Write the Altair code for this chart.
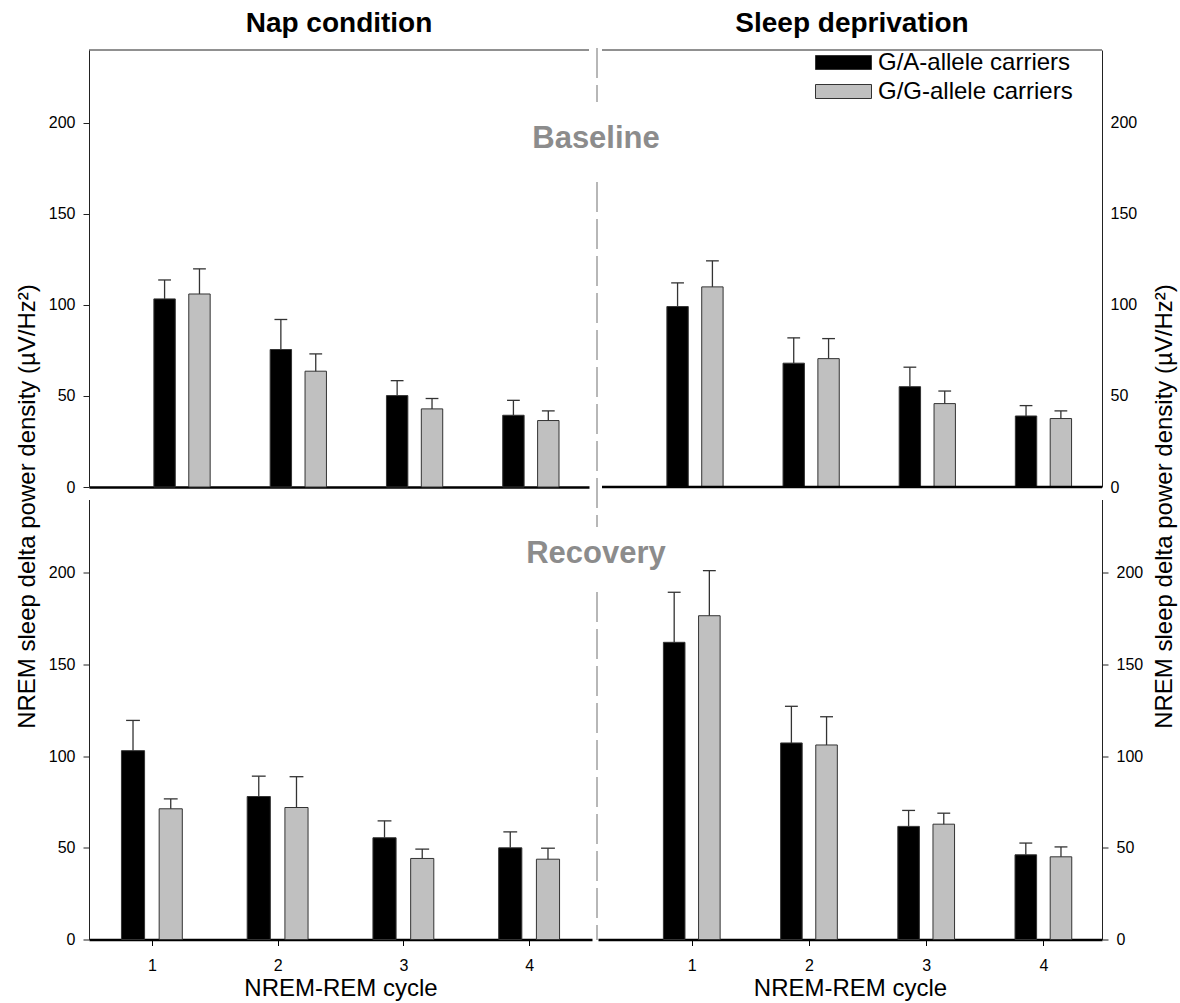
import altair as alt
import pandas as pd

# NREM-REM cycles and genotype groups
cycles = [1, 2, 3, 4]
groups = ["G/A-allele carriers", "G/G-allele carriers"]

# Nap condition, baseline night: mean and SEM
nap_base_ga = [103.3, 75.5, 50.2, 39.4]
nap_base_ga_sem = [10.4, 16.5, 8.2, 8.2]
nap_base_gg = [106.0, 63.6, 42.9, 36.5]
nap_base_gg_sem = [13.8, 9.5, 5.7, 5.3]

# Sleep deprivation condition, baseline night
sd_base_ga = [99.1, 68.0, 55.1, 39.0]
sd_base_ga_sem = [13.0, 13.9, 10.7, 5.7]
sd_base_gg = [109.9, 70.5, 45.8, 37.6]
sd_base_gg_sem = [14.3, 11.0, 6.9, 4.2]

# Nap condition, recovery night
nap_rec_ga = [103.0, 78.0, 55.5, 50.0]
nap_rec_ga_sem = [16.5, 11.1, 9.2, 8.7]
nap_rec_gg = [71.3, 72.0, 44.2, 43.8]
nap_rec_gg_sem = [5.4, 16.8, 5.1, 6.0]

# Sleep deprivation condition, recovery night
sd_rec_ga = [162.1, 107.2, 61.7, 46.2]
sd_rec_ga_sem = [27.3, 20.0, 8.7, 6.4]
sd_rec_gg = [176.6, 106.1, 62.9, 45.1]
sd_rec_gg_sem = [24.6, 15.4, 6.0, 5.4]

y_ticks = [0, 50, 100, 150, 200]
y_title = "NREM sleep delta power density (µV/Hz²)"
x_title = "NREM-REM cycle"

FONT = "Liberation Sans"
BAR_HALF = 0.092
CAP_HALF = 0.055
SHIFT = {groups[0]: -0.15, groups[1]: 0.15}

# one-row source for decorations drawn once per panel
single = pd.DataFrame({"k": [0]})


def table(ga, ga_sem, gg, gg_sem):
    rows = []
    for g, means, sems in ((groups[0], ga, ga_sem), (groups[1], gg, gg_sem)):
        for c, m, s in zip(cycles, means, sems):
            pos = c + SHIFT[g]
            rows.append(dict(cycle=c, group=g, mean=m, base=0, upper=m + s,
                             left=pos - BAR_HALF, right=pos + BAR_HALF, mid=pos,
                             cap_l=pos - CAP_HALF, cap_r=pos + CAP_HALF))
    return pd.DataFrame(rows)


color = alt.Color(
    "group:N",
    scale=alt.Scale(domain=groups, range=["#000000", "#c0c0c0"]),
    legend=alt.Legend(
        title=None, orient="none", legendX=740, legendY=-2,
        symbolType="M-2,-0.5H2V0.5H-2Z", symbolSize=784,
        symbolStrokeColor="#333333", symbolStrokeWidth=1, symbolOpacity=1,
        labelFontSize=24, labelFont=FONT, labelColor="#000000", labelLimit=400,
        labelOffset=20, rowPadding=2, padding=0,
    ),
)


def panel(df, xdom, width, height, yside, bottom_row, with_title=False, x_domain_line=True):
    xscale = alt.Scale(domain=xdom, nice=False, zero=False)
    yscale = alt.Scale(domain=[0, 240], nice=False)

    if bottom_row:
        xaxis = alt.Axis(values=cycles, format="d", labelFontSize=16, tickSize=6,
                         labelPadding=12, tickColor="#000000", domainColor="#000000",
                         domainWidth=2.5, title=x_title, titleFontSize=24,
                         titleFontWeight="normal", titleY=55.5, titleBaseline="alphabetic",
                         grid=False, labelColor="#000000", titleColor="#000000")
    else:
        xaxis = alt.Axis(values=cycles, labels=False, ticks=False, domain=x_domain_line,
                         domainColor="#000000", domainWidth=2.5, title=None, grid=False)

    yopts = dict(orient=yside, values=y_ticks, labelFontSize=16, grid=False,
                 domainColor="#222222", tickColor="#222222", labelColor="#000000",
                 titleColor="#000000")
    if with_title:
        yopts.update(title=y_title, titleFontSize=24, titleFontWeight="normal",
                     titleAngle=270, titleY=456, titleAlign="center",
                     titleBaseline="alphabetic",
                     titleX=-55 if yside == "left" else 69)
    else:
        yopts.update(title=None)
    if yside == "right" and not bottom_row:
        yopts.update(ticks=False, labelPadding=8)
    else:
        yopts.update(tickSize=6, labelPadding=8)
    yaxis = alt.Axis(**yopts)

    base = alt.Chart(df)
    bars = base.mark_bar(stroke="#333333", strokeWidth=1).encode(
        x=alt.X("left:Q", scale=xscale, axis=xaxis),
        x2="right:Q",
        y=alt.Y("mean:Q", scale=yscale, axis=yaxis),
        y2="base:Q",
        color=color,
    )
    err = base.mark_rule(color="#333333", strokeWidth=1.3).encode(
        x="mid:Q", y="mean:Q", y2="upper:Q")
    cap = base.mark_rule(color="#333333", strokeWidth=1.3).encode(
        x="cap_l:Q", x2="cap_r:Q", y="upper:Q")
    return [bars, err, cap]


def column_title(text, cx):
    return alt.Chart(single).mark_text(text=text, fontSize=28, fontWeight="bold", font=FONT,
                                       color="#000000", align="center",
                                       baseline="alphabetic").encode(
        x=alt.value(cx), y=alt.value(-18))


def hline(x0, x1, y, width, col):
    return alt.Chart(single).mark_rule(color=col, strokeWidth=width).encode(
        x=alt.value(x0), x2=alt.value(x1), y=alt.value(y))


# Top row: nap condition
tl_df = table(nap_base_ga, nap_base_ga_sem, nap_base_gg, nap_base_gg_sem)
tl = alt.layer(*panel(tl_df, [0.2, 4.5], 500, 437, "left", False, with_title=True),
               hline(0, 500, 0, 1, "#222222"),
               column_title("Nap condition", 250)).properties(width=500, height=437)

# Top row: sleep deprivation (frame starts slightly right of the cell)
tr_df = table(sd_base_ga, sd_base_ga_sem, sd_base_gg, sd_base_gg_sem)
tr = alt.layer(*panel(tr_df, [0.165, 4.504], 504, 437, "right", False, with_title=True,
                      x_domain_line=False),
               hline(4, 504, 0, 1, "#222222"),
               hline(4, 504, 437, 2.5, "#000000"),
               column_title("Sleep deprivation", 254)).properties(width=504, height=437)

# Bottom row, with the dashed condition divider and the night labels
bl_df = table(nap_rec_ga, nap_rec_ga_sem, nap_rec_gg, nap_rec_gg_sem)
bl_layers = panel(bl_df, [0.5, 4.5], 503, 440, "left", True)
divider = []
for y0, y1 in ((-451.5, -397.5), (-317.5, 27.5), (92.5, 440.5)):
    divider.append(alt.Chart(single).mark_rule(color="#a0a0a0", strokeWidth=1.5,
                                               strokeDash=[30, 7]).encode(
        x=alt.value(508), y=alt.value(y0), y2=alt.value(y1)))


def night_label(text, y):
    return alt.Chart(single).mark_text(text=text, fontSize=31, fontWeight="bold",
                                       color="#8c8c8c", align="center",
                                       baseline="alphabetic", font=FONT).encode(
        x=alt.value(507), y=alt.value(y))


bl = alt.layer(*bl_layers, *divider, night_label("Baseline", -351.5),
               night_label("Recovery", 63.5)).properties(width=503, height=440)

br_df = table(sd_rec_ga, sd_rec_ga_sem, sd_rec_gg, sd_rec_gg_sem)
br_layers = panel(br_df, [0.2, 4.5], 504, 440, "right", True)
# transparent frame spanning the whole figure, fixing its overall extent
extent = alt.Chart(single).mark_rule(opacity=0, strokeWidth=0.01).encode(
    x=alt.value(-598), y=alt.value(-499.5), x2=alt.value(582), y2=alt.value(503.5))
br = alt.layer(*br_layers, extent).properties(width=504, height=440)

chart = alt.concat(
    tl, tr, bl, br, columns=2, bounds="flush",
    spacing=alt.RowColnumber(row=12.5, column=6),
).resolve_scale(
    x="independent", y="independent"
).properties(
    padding=0, autosize=alt.AutoSizeParams(type="pad")
).configure(
    font=FONT
).configure_view(
    stroke=None
).configure_axis(
    labelFont=FONT, titleFont=FONT
)

chart.save("out.html", embed_options={"renderer": "svg", "actions": False})
